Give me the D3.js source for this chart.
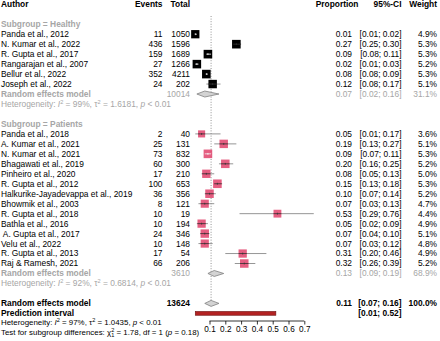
<!DOCTYPE html>
<html><head><meta charset="utf-8">
<script src="https://cdn.jsdelivr.net/npm/d3@7"></script>
<style>
body{margin:0;background:#fff}
svg{display:block}
text{font-family:"Liberation Sans",Arial,Helvetica,sans-serif;font-size:8.4px;white-space:pre}
</style>
</head><body>
<svg id="chart" width="440" height="341"></svg>
<script>
// ---------- data ----------
const healthyAuthors = ["Panda et al., 2012","N. Kumar et al., 2022","R. Gupta et al., 2017","Rangarajan et al., 2007","Bellur et al., 2022","Joseph et al., 2022"];
const healthyEvents = [11,436,159,27,352,24];
const healthyTotal = [1050,1596,1689,1266,4211,202];
const healthyProp = [0.01,0.27,0.09,0.02,0.08,0.12];
const healthyLower = [0.01,0.25,0.08,0.01,0.08,0.08];
const healthyUpper = [0.02,0.30,0.11,0.03,0.09,0.17];
const healthyWeight = [4.9,5.3,5.3,5.2,5.3,5.1];

const patientAuthors = ["Panda et al., 2018","A. Kumar et al., 2021","N. Kumar et al., 2021","Bhagawati et al., 2019","Pinheiro et al., 2020","R. Gupta et al., 2012","Halkurike-Jayadevappa et al., 2019","Bhowmik et al., 2003","R. Gupta et al., 2018","Bathla et al., 2016"," A. Gupta et al., 2017","Velu et al., 2022","R. Gupta et al., 2013","Raj & Ramesh, 2021"];
const patientEvents = [2,25,73,60,17,100,36,8,10,10,24,10,17,66];
const patientTotal = [40,131,832,300,210,653,356,121,19,194,346,148,54,206];
const patientProp = [0.05,0.19,0.09,0.20,0.08,0.15,0.10,0.07,0.53,0.05,0.07,0.07,0.31,0.32];
const patientLower = [0.01,0.13,0.07,0.16,0.05,0.13,0.07,0.03,0.29,0.02,0.04,0.03,0.20,0.26];
const patientUpper = [0.17,0.27,0.11,0.25,0.13,0.18,0.14,0.13,0.76,0.09,0.10,0.12,0.46,0.39];
const patientWeight = [3.6,5.1,5.3,5.2,5.0,5.3,5.2,4.7,4.4,4.9,5.1,4.8,4.9,5.2];

// summaries: [healthy, patients, overall]
const summaryTotal = [10014,3610,13624];
const summaryProp = [0.07,0.13,0.11];
const summaryLower = [0.02,0.09,0.07];
const summaryUpper = [0.16,0.19,0.16];
const summaryWeight = ["31.1%","68.9%","100.0%"];
const predictionInterval = [0.01,0.52];
const heteroI2 = ["99%","92%","97%"];
const heteroTau2 = ["1.6181","0.6814","1.0435"];
const subgroupChi2 = "1.78", subgroupDf = "1", subgroupP = "0.18";
const axisTicks = [0.1,0.2,0.3,0.4,0.5,0.6,0.7];

// ---------- layout ----------
const svg = d3.select("#chart");
const x = d3.scaleLinear().domain([0,0.7]).range([193.7,304.3]);
const rowY = d3.scaleLinear().domain([0,33]).range([4.3,333.3]);
const GRAY = "#a6a6a6";
const colEvents = 162.5, colTotal = 190, colProp = 352, colCI = 401.5, colW = 437;
const f2 = d3.format(".2f");
const fmtCI = (l,u) => "[" + f2(l) + "; " + f2(u) + "]";

function txt(xp, y, s, opts={}) {
  return svg.append("text").attr("x", xp).attr("y", y).attr("dy","0.35em")
    .attr("text-anchor", opts.anchor || "start")
    .attr("font-weight", opts.bold ? "bold" : null)
    .attr("fill", opts.color || "#000").text(s);
}

// header
txt(1, rowY(0), "Author", {bold:true});
txt(colEvents, rowY(0), "Events", {bold:true, anchor:"end"});
txt(colTotal, rowY(0), "Total", {bold:true, anchor:"end"});
txt(358.5, rowY(0), "Proportion", {bold:true, anchor:"end"});
txt(colCI, rowY(0), "95%-CI", {bold:true, anchor:"end"});
txt(colW, rowY(0), "Weight", {bold:true, anchor:"end"});

// reference dotted line at overall estimate
svg.append("line").attr("x1", x(summaryProp[2])).attr("x2", x(summaryProp[2]))
  .attr("y1", 16).attr("y2", 303).attr("stroke","#777").attr("stroke-width",0.8)
  .attr("stroke-dasharray","1,1.6");

function study(row, name, ev, tot, p, lo, hi, w, sqColor, healthy) {
  const y = rowY(row);
  txt(1, y, name);
  txt(colEvents, y, String(ev), {anchor:"end"});
  txt(colTotal, y, String(tot), {anchor:"end"});
  txt(colProp, y, f2(p), {anchor:"end"});
  txt(colCI, y, fmtCI(lo,hi), {anchor:"end"});
  txt(colW, y, d3.format(".1f")(w) + "%", {anchor:"end"});
  const side = 8.6 * Math.sqrt(w / 5.3);
  svg.append("line").attr("x1", x(lo)).attr("x2", x(hi)).attr("y1", y).attr("y2", y)
    .attr("stroke","#8a8a8a").attr("stroke-width",0.9);
  svg.append("rect").attr("x", x(p)-side/2).attr("y", y-side/2).attr("width", side).attr("height", side)
    .attr("fill", sqColor).attr("opacity", healthy ? 1 : 0.85);
  const inside = (x(lo) >= x(p)-side/2) && (x(hi) <= x(p)+side/2);
  const ic = inside ? "#fff" : "#333";
  svg.append("line").attr("x1", Math.max(x(lo), x(p)-side/2)).attr("x2", Math.min(x(hi), x(p)+side/2))
    .attr("y1", y).attr("y2", y).attr("stroke", ic).attr("stroke-width",0.8);
  svg.append("line").attr("x1", x(p)).attr("x2", x(p)).attr("y1", y-0.9).attr("y2", y+0.9)
    .attr("stroke", ic).attr("stroke-width",0.8);
}

function diamond(row, k, color, bold) {
  const y = rowY(row), h = 3;
  svg.append("path")
    .attr("d", `M${x(summaryLower[k])},${y} L${x(summaryProp[k])},${y-h} L${x(summaryUpper[k])},${y} L${x(summaryProp[k])},${y+h} Z`)
    .attr("fill","#d3d3d3").attr("stroke","#808080").attr("stroke-width",0.8);
  txt(1, y, "Random effects model", {bold:true, color});
  txt(colTotal, y, String(summaryTotal[k]), {anchor:"end", color, bold});
  txt(colProp, y, f2(summaryProp[k]), {anchor:"end", color, bold});
  txt(colCI, y, fmtCI(summaryLower[k], summaryUpper[k]), {anchor:"end", color, bold});
  txt(colW, y, summaryWeight[k], {anchor:"end", color, bold});
}

function hetero(y, k, color, fs) {
  const t = txt(1, y, "", {color}).style("font-size", fs + "px");
  t.append("tspan").text("Heterogeneity: ");
  t.append("tspan").attr("font-style","italic").text("I");
  t.append("tspan").attr("font-size","5.6px").attr("dy",-3).text("2");
  t.append("tspan").attr("dy",3).text(" = " + heteroI2[k] + ", \u03c4");
  t.append("tspan").attr("font-size","5.6px").attr("dy",-3).text("2");
  t.append("tspan").attr("dy",3).text(" = " + heteroTau2[k] + ", ");
  t.append("tspan").attr("font-style","italic").text("p");
  t.append("tspan").text(" < 0.01");
}

// healthy subgroup
txt(1, rowY(2), "Subgroup = Healthy", {bold:true, color:GRAY});
healthyAuthors.forEach((a,i) => study(3+i, a, healthyEvents[i], healthyTotal[i], healthyProp[i], healthyLower[i], healthyUpper[i], healthyWeight[i], "#000", true));
diamond(9, 0, GRAY, false);
hetero(rowY(10), 0, GRAY, 8.4);

// patients subgroup
txt(1, rowY(12), "Subgroup = Patients", {bold:true, color:GRAY});
patientAuthors.forEach((a,i) => study(13+i, a, patientEvents[i], patientTotal[i], patientProp[i], patientLower[i], patientUpper[i], patientWeight[i], "#e0426b", false));
diamond(27, 1, GRAY, false);
hetero(rowY(28), 1, GRAY, 8.4);

// overall
diamond(30, 2, "#000", true);
{
  const y = rowY(31);
  txt(1, y, "Prediction interval", {bold:true});
  svg.append("rect").attr("x", x(predictionInterval[0])).attr("y", y-1.9)
    .attr("width", x(predictionInterval[1]) - x(predictionInterval[0])).attr("height", 3.8)
    .attr("fill","#b22222").attr("stroke","#6e1010").attr("stroke-width",0.6);
  txt(colCI, y, fmtCI(predictionInterval[0], predictionInterval[1]), {anchor:"end", bold:true});
}
hetero(322.6, 2, "#000", 7.9);
{
  const t = txt(1, 331.8, "").style("font-size","7.9px");
  t.append("tspan").text("Test for subgroup differences: \u03c7");
  t.append("tspan").attr("font-size","5.6px").attr("dy",-3).text("2");
  t.append("tspan").attr("font-size","5.6px").attr("dx",-3.1).attr("dy",5).text(subgroupDf);
  t.append("tspan").attr("dy",-2).text(" = " + subgroupChi2 + ", df = " + subgroupDf + " (");
  t.append("tspan").attr("font-style","italic").text("p");
  t.append("tspan").text(" = " + subgroupP + ")");
}

// axis
const axisG = svg.append("g").attr("transform","translate(0,321)")
  .call(d3.axisBottom(x).tickValues(axisTicks).tickFormat(d3.format(".1f")).tickSize(3.5).tickSizeOuter(0));
axisG.select(".domain").attr("d", `M${x(axisTicks[0])},0H${x(axisTicks[axisTicks.length-1])}`).attr("stroke","#000").attr("stroke-width",0.8);
axisG.selectAll(".tick line").attr("stroke","#000").attr("stroke-width",0.8);
axisG.selectAll(".tick text").attr("y",8.5).attr("dy","0.35em")
  .style("font-family",'"Liberation Sans",Arial,sans-serif').style("font-size","8.2px").attr("fill","#000");
</script>
</body></html>
